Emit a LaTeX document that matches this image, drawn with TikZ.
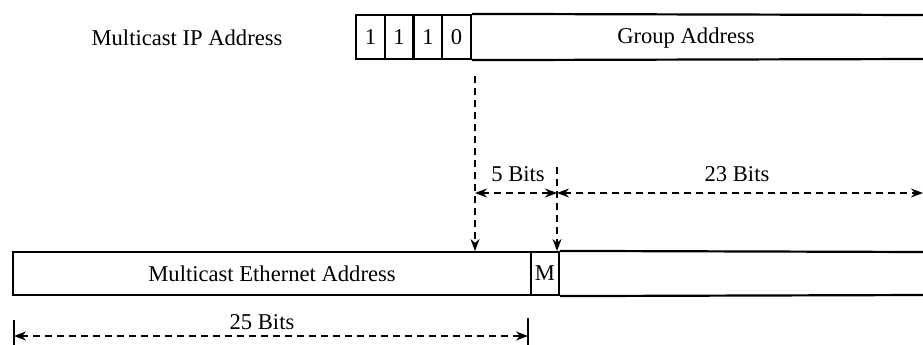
\documentclass[tikz,border=0pt]{standalone}
\usepackage{fontspec}
\setmainfont{Liberation Serif}
\usetikzlibrary{arrows.meta}
\begin{document}
\begin{tikzpicture}[x=1pt,y=-1pt,
  lbl/.style={inner sep=0pt,font=\fontsize{22.6}{26}\selectfont},
  cell/.style={draw,line width=2.2pt,inner sep=0pt,minimum height=44pt,font=\fontsize{22.6}{26}\selectfont},
  edge/.style={line width=2.2pt},
  dim/.style={line width=1.6pt,dash pattern=on 7pt off 5pt},
  tip/.style={-{Stealth[length=12pt,width=9pt]}},
  tips/.style={{Stealth[length=12pt,width=9pt]}-{Stealth[length=12pt,width=9pt]}}]
\useasboundingbox (0,0) rectangle (923,345);
% top address
\node[lbl] (ipl) at (187,38) {Multicast IP Address};
\node[cell,minimum width=28.75pt] (b1) at (370.4,37) {1};
\node[cell,minimum width=28.75pt] (b2) at (399.1,37) {1};
\node[cell,minimum width=28.75pt] (b3) at (427.9,37) {1};
\node[cell,minimum width=28.75pt] (b4) at (456.6,37) {0};
\node[lbl] (ga) at (686,38) {Group Address};
\coordinate (gtr) at (923,15);
\coordinate (gbr) at (923,59);
\draw[edge] (b4.north east) -- (gtr);
\draw[edge] (b4.south east) -- (gbr);
% bottom address
\node[cell,minimum width=518pt,minimum height=43pt] (eth) at (272,273.5) {Multicast Ethernet Address};
\node[cell,minimum width=28pt,minimum height=43pt] (m) at (545,273.5) {M};
\coordinate (etr) at (923,252);
\coordinate (ebr) at (923,295);
\draw[edge] (m.north east) -- (etr);
\draw[edge] (m.south east) -- (ebr);
% vertical mapping arrows
\coordinate (v1s) at (475,76);
\coordinate (v1e) at (475,251);
\coordinate (v2s) at (557,167);
\coordinate (v2e) at (557,251);
\draw[dim,tip] (v1s) -- (v1e);
\draw[dim,tip] (v2s) -- (v2e);
% 5 bits / 23 bits
\coordinate (a5l) at (475,193);
\coordinate (a5r) at (557,193);
\coordinate (a23r) at (923,193);
\draw[dim,tips] (a5l) -- (a5r);
\draw[dim,tips] (a5r) -- (a23r);
\node[lbl] (l5) at (518,174) {5 Bits};
\node[lbl] (l23) at (737,174) {23 Bits};
% 25 bits
\coordinate (t1a) at (14,320);
\coordinate (t1b) at (14,345);
\coordinate (t2a) at (528,318);
\coordinate (t2b) at (528,345);
\draw[line width=1.6pt] (t1a) -- (t1b);
\draw[line width=1.6pt] (t2a) -- (t2b);
\coordinate (a25l) at (14,336);
\coordinate (a25r) at (528,336);
\draw[dim,tips] (a25l) -- (a25r);
\node[lbl] (l25) at (262,322) {25 Bits};
\end{tikzpicture}
\end{document}
